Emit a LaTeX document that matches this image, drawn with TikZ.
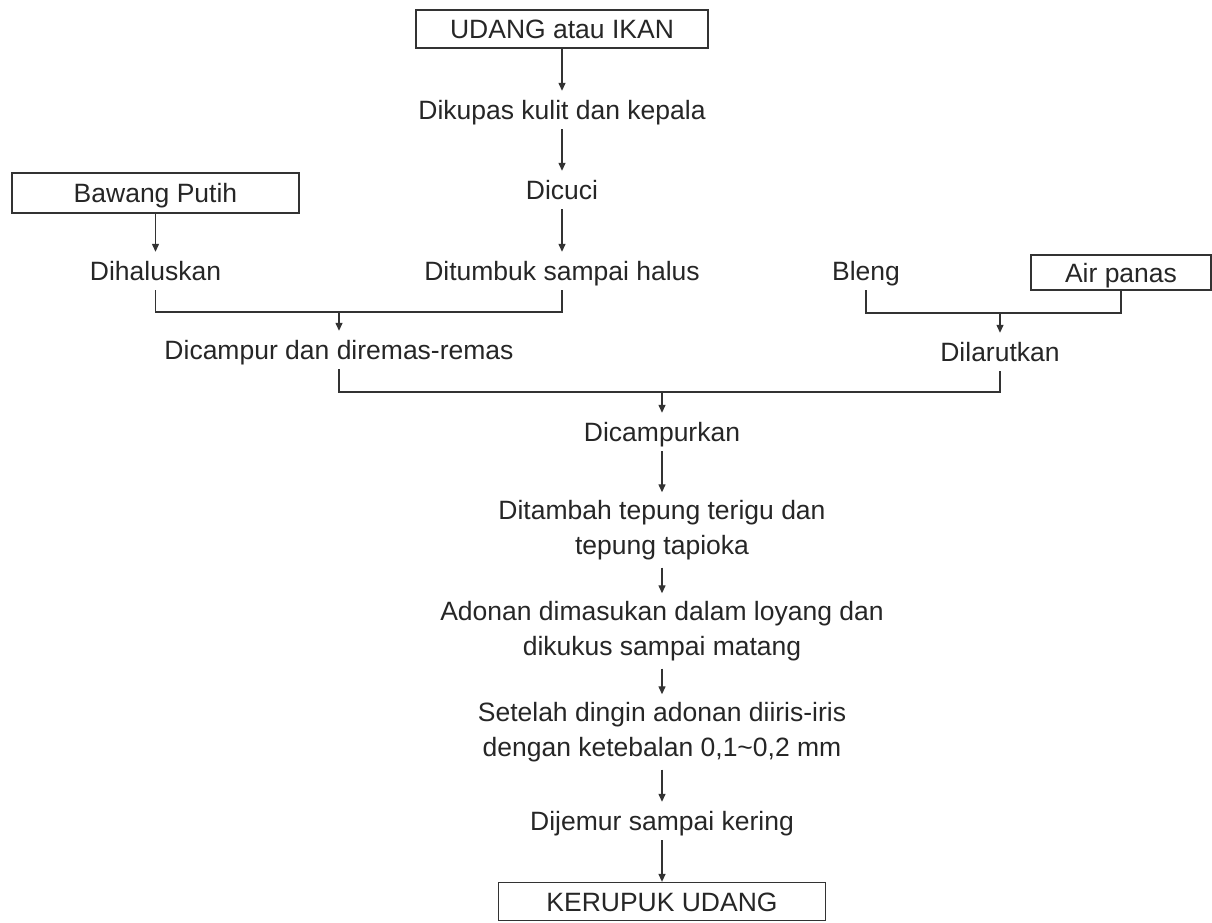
\documentclass[tikz,border=0pt]{standalone}
\usepackage{fontspec}
\setmainfont{Liberation Sans}
\usetikzlibrary{arrows.meta}
\begin{document}
\begin{tikzpicture}[x=1pt,y=-1pt,
  every node/.style={font=\fontsize{26.5}{35}\selectfont, text=black!85},
  lbl/.style={inner sep=0pt, text height=22pt, text depth=3pt, minimum height=38pt},
  lbltwo/.style={inner sep=0pt, align=center, minimum height=75pt},
  boxnode/.style={draw=black!80, line width=1.3pt, inner sep=0pt, text height=22pt, text depth=3pt},
  conn/.style={draw=black!80, line width=1.3pt},
  arr/.style={conn, -{Triangle[length=8pt,width=7pt]}}]
\useasboundingbox (0,0) rectangle (1212,923);

\node[boxnode, minimum width=292pt, minimum height=38pt] (udang) at (562,29) {UDANG atau IKAN};
\node[lbl] (kupas) at (562,110) {Dikupas kulit dan kepala};
\node[lbl] (cuci) at (562,190) {Dicuci};
\node[lbl] (tumbuk) at (562,271) {Ditumbuk sampai halus};
\node[boxnode, minimum width=287pt, minimum height=40pt] (bawang) at (155.5,193) {Bawang Putih};
\node[lbl] (halus) at (155.5,271) {Dihaluskan};
\node[lbl] (campur) at (339,350) {Dicampur dan diremas-remas};
\node[lbl] (bleng) at (866,271) {Bleng};
\node[boxnode, minimum width=180pt, minimum height=35pt] (air) at (1121,272.5) {Air panas};
\node[lbl] (larut) at (1000,352) {Dilarutkan};
\node[lbl] (campurkan) at (662,432) {Dicampurkan};
\node[lbltwo] (tambah) at (662,530) {Ditambah tepung terigu dan\\tepung tapioka};
\node[lbltwo] (adonan) at (662,631) {Adonan dimasukan dalam loyang dan\\dikukus sampai matang};
\node[lbltwo] (setelah) at (662,732) {Setelah dingin adonan diiris-iris\\dengan ketebalan 0,1\char`~0,2 mm};
\node[lbl] (jemur) at (662,821) {Dijemur sampai kering};
\node[boxnode, minimum width=327pt, minimum height=38pt] (kerupuk) at (662,901.5) {KERUPUK UDANG};

\coordinate (m1) at (339,312);
\coordinate (m2) at (1000,313);
\coordinate (m3) at (662,392);

\draw[arr] (udang.south) -- (kupas.north);
\draw[arr] (kupas.south) -- (cuci.north);
\draw[arr] (cuci.south) -- (tumbuk.north);
\draw[arr] (bawang.south) -- (halus.north);

\draw[conn] (halus.south) -- (halus.south |- m1) -- (m1 -| tumbuk.south) -- (tumbuk.south);
\draw[arr] (m1) -- (campur.north);

\draw[conn] (bleng.south) -- (bleng.south |- m2) -- (m2 -| air.south) -- (air.south);
\draw[arr] (m2) -- (larut.north);

\draw[conn] (campur.south) -- (campur.south |- m3) -- (m3 -| larut.south) -- (larut.south);
\draw[arr] (m3) -- (campurkan.north);

\draw[arr] (campurkan.south) -- (tambah.north);
\draw[arr] (tambah.south) -- (adonan.north);
\draw[arr] (adonan.south) -- (setelah.north);
\draw[arr] (setelah.south) -- (jemur.north);
\draw[arr] (jemur.south) -- (kerupuk.north);
\end{tikzpicture}
\end{document}
